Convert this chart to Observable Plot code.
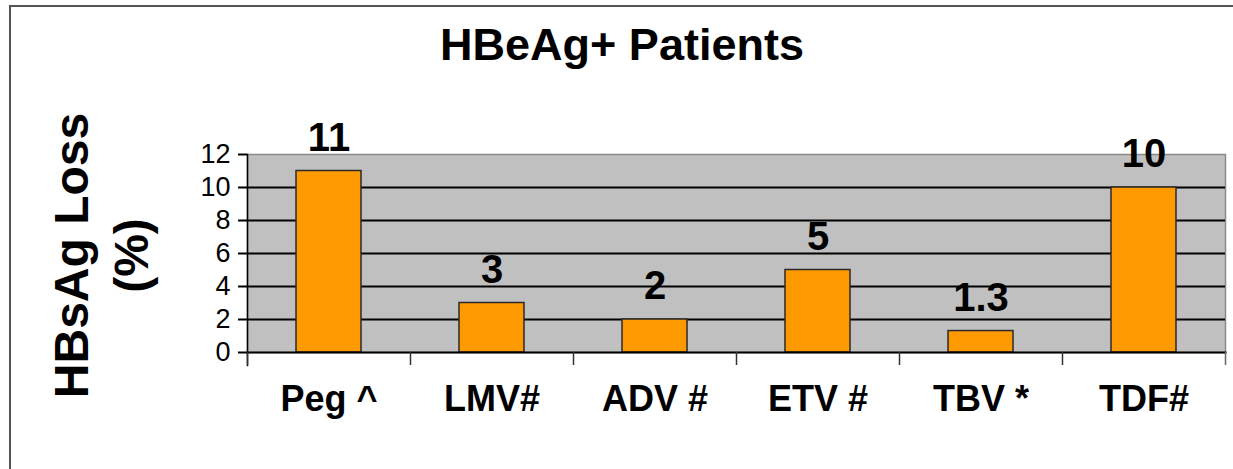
<!DOCTYPE html>
<html>
<head>
<meta charset="utf-8">
<script src="https://cdn.jsdelivr.net/npm/d3@7"></script>
<script src="https://cdn.jsdelivr.net/npm/@observablehq/plot@0.6"></script>
<style>
  html, body { margin: 0; padding: 0; background: #fff; width: 1233px; height: 469px; overflow: hidden; }
  #border { position: absolute; left: 9px; top: 5px; width: 1240px; height: 480px; border: 2px solid #555; box-sizing: border-box; }
  #chart { position: absolute; left: 0; top: 0; }
  #chart svg { font-family: "Liberation Sans", Arial, sans-serif; }
  #chart [aria-label="x-axis tick label"] text { font-weight: bold; }
</style>
</head>
<body>
<div id="border"></div>
<div id="chart"></div>
<script>
const categories = ["Peg ^", "LMV#", "ADV #", "ETV #", "TBV *", "TDF#"];
const values = [11, 3, 2, 5, 1.3, 10];
const valueLabels = ["11", "3", "2", "5", "1.3", "10"];
const yTicks = [0, 2, 4, 6, 8, 10, 12];
const gridTicks = [2, 4, 6, 8, 10];
const title = "HBeAg+ Patients";
const yLabel = "HBsAg Loss\n(%)";

const data = categories.map((c, i) => ({cat: c, value: values[i], label: valueLabels[i]}));

const W = 1233, H = 469, mL = 247, mR = 8, mT = 154, mB = 117;
const step = (W - mL - mR) / categories.length;
const frameH = H - mT - mB;

const chart = Plot.plot({
  width: W,
  height: H,
  marginLeft: mL,
  marginRight: mR,
  marginTop: mT,
  marginBottom: mB,
  style: {background: "transparent", color: "#000", overflow: "visible"},
  x: {domain: categories, paddingInner: 0.6, paddingOuter: 0.3, label: null},
  y: {domain: [0, 12], label: null},
  marks: [
    Plot.frame({fill: "#c0c0c0", stroke: "#8a8a8a", strokeWidth: 1.5}),
    Plot.ruleY(gridTicks, {stroke: "#000", strokeWidth: 2}),
    Plot.barY(data, {x: "cat", y: "value", fill: "#ff9900", stroke: "#2a2a2a", strokeWidth: 1.5}),
    Plot.frame({anchor: "left", insetBottom: -13, stroke: "#000", strokeWidth: 1.5}),
    Plot.frame({anchor: "bottom", stroke: "#000", strokeWidth: 2}),
    Plot.ruleX(categories, {x: d => d, dx: -step / 2, insetTop: frameH, insetBottom: -13, stroke: "#333", strokeWidth: 1.5}),
    Plot.ruleX(categories.slice(-1), {x: d => d, dx: step / 2, insetTop: frameH, insetBottom: -13, stroke: "#666", strokeWidth: 1.5}),
    Plot.axisY({ticks: yTicks, tickSize: 9, tickPadding: 8, fontSize: 27, tickFormat: d => String(d), label: null, strokeWidth: 2}),
    Plot.axisX({tickSize: 0, tickPadding: 33, fontSize: 36, label: null}),
    Plot.text(data, {x: "cat", y: "value", text: "label", dy: -33, fontSize: 40, fontWeight: "bold", lineAnchor: "middle"}),
    Plot.text([title], {frameAnchor: "top", text: d => d, dx: (W / 2) - (mL + (W - mL - mR) / 2) + 5, dy: -109, fontSize: 45, fontWeight: "bold", lineAnchor: "middle"}),
    Plot.text([yLabel], {frameAnchor: "left", text: d => d, rotate: -90, dx: -149, dy: 2, fontSize: 48, fontWeight: "bold", lineHeight: 1.25, lineAnchor: "middle", textAnchor: "middle"})
  ]
});
document.getElementById("chart").appendChild(chart);
</script>
</body>
</html>
